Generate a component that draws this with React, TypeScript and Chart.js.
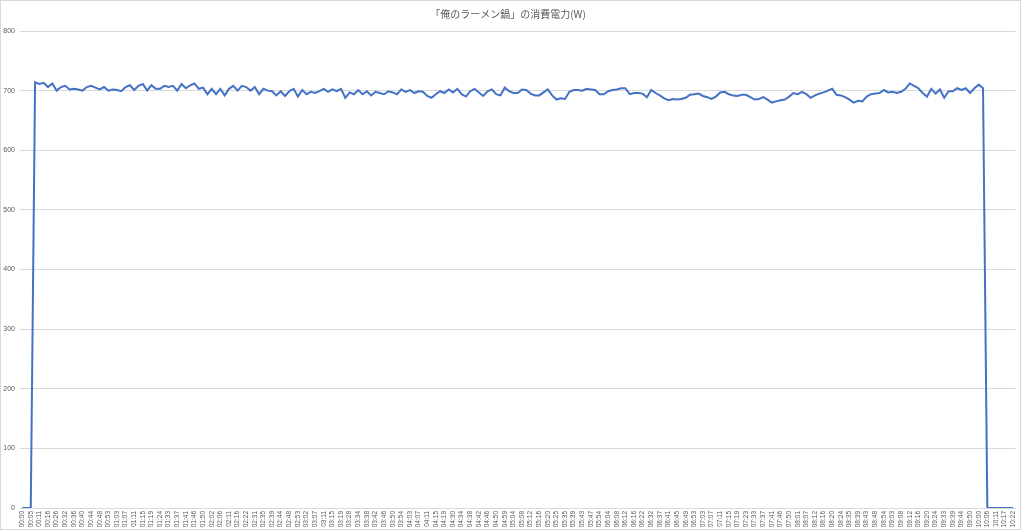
import React, { useEffect, useRef } from "react";
import { Chart, registerables } from "chart.js";

Chart.register(...registerables);

const TITLE = "「俺のラーメン鍋」の消費電力(W)";

// Tick labels shown on the category axis (every other reading)
const timeLabels = [
  "00:00", "00:05", "00:11", "00:16", "00:26", "00:32", "00:36", "00:40", "00:44", "00:48",
  "00:53", "01:03", "01:07", "01:11", "01:15", "01:19", "01:24", "01:33", "01:37", "01:41",
  "01:46", "01:50", "02:02", "02:06", "02:11", "02:16", "02:22", "02:31", "02:35", "02:39",
  "02:44", "02:48", "02:53", "03:02", "03:07", "03:11", "03:15", "03:19", "03:28", "03:34",
  "03:38", "03:42", "03:46", "03:50", "03:54", "04:03", "04:07", "04:11", "04:15", "04:19",
  "04:30", "04:34", "04:38", "04:42", "04:46", "04:50", "04:59", "05:04", "05:08", "05:12",
  "05:16", "05:20", "05:25", "05:35", "05:39", "05:43", "05:47", "05:54", "06:04", "06:08",
  "06:12", "06:16", "06:22", "06:32", "06:37", "06:41", "06:45", "06:49", "06:53", "07:03",
  "07:07", "07:11", "07:15", "07:19", "07:23", "07:33", "07:37", "07:41", "07:46", "07:50",
  "08:01", "08:07", "08:12", "08:16", "08:20", "08:24", "08:35", "08:39", "08:43", "08:48",
  "08:54", "09:03", "09:08", "09:12", "09:16", "09:20", "09:24", "09:33", "09:39", "09:44",
  "09:50", "10:00", "10:06", "10:11", "10:17", "10:22",
];

// Power readings (W)
const startIdle = [0, 0, 0];
const power1 = [
  714, 711, 713, 706, 712, 700, 706, 708, 702, 703, 702, 700, 706, 708, 705, 702, 706, 700, 702, 701,
  699, 706, 709, 701, 708, 711, 700, 709, 703, 703, 708, 706, 708, 700, 711, 704, 709, 712, 703, 705,
  694, 703, 694, 703, 692, 703, 708, 700, 708, 706, 700, 706, 694, 703, 700,
];
const power2 = [
  699, 692, 699, 691, 699, 703, 690, 701, 694, 698, 696, 699, 703, 698, 702, 699, 703, 688, 697, 694,
  701, 694, 699, 692, 698, 696, 694, 699, 697, 694, 702, 698, 701, 696, 699, 698, 691, 688, 694, 699,
  696, 702, 697, 703, 694, 690, 699, 703, 697, 691, 699, 702, 694, 692, 705, 699,
];
const power3 = [
  696, 696, 702, 701, 695, 692, 692, 697, 702, 692, 685, 687, 686, 698, 701, 701, 700, 703, 702, 701,
  694, 694, 699, 701, 702, 704, 704, 694, 696, 696, 695, 689, 701, 696, 692, 687, 684, 686, 685, 686,
  688, 693, 694, 695, 691, 689, 686, 690, 697, 698, 694, 692, 691, 693, 693, 689,
];
const power4 = [
  685, 686, 689, 685, 680, 682, 684, 685, 690, 696, 694, 698, 694, 688, 692, 695, 697, 700, 703, 693,
  692, 689, 685, 680, 683, 682, 690, 694, 695, 696, 701, 697, 698, 696, 698, 703, 712, 708, 704, 696,
  690, 703, 695, 702, 688, 699, 699, 704, 701, 704, 696, 704, 710, 704,
];
const endIdle = [0, 0, 0, 0, 0, 0, 0];

const Y_MIN = 0;
const Y_MAX = 800;
const Y_STEP = 100;

export default function App() {
  const ref = useRef<HTMLCanvasElement | null>(null);

  useEffect(() => {
    const powerW = [...startIdle, ...power1, ...power2, ...power3, ...power4, ...endIdle];
    const categories = powerW.map((_, i) => (i % 2 === 0 ? timeLabels[i / 2] ?? "" : ""));

    const frame = {
      id: "frame",
      beforeDraw(c: any) {
        const ctx = c.ctx;
        ctx.save();
        ctx.fillStyle = "#ffffff";
        ctx.fillRect(0, 0, c.width, c.height);
        ctx.restore();
      },
      afterDraw(c: any) {
        const ctx = c.ctx;
        ctx.save();
        ctx.strokeStyle = "#d9d9d9";
        ctx.lineWidth = 1;
        ctx.strokeRect(0.5, 0.5, 1020, 529);
        ctx.restore();
      },
    };

    const chart = new Chart(ref.current as HTMLCanvasElement, {
      type: "line",
      data: {
        labels: categories,
        datasets: [
          {
            data: powerW,
            borderColor: "#4472C4",
            borderWidth: 2,
            pointRadius: 0,
            tension: 0,
            fill: false,
          },
        ],
      },
      options: {
        responsive: false,
        animation: false,
        layout: { padding: { left: 0, right: 8, top: 0, bottom: 0 } },
        plugins: {
          legend: { display: false },
          tooltip: { enabled: false },
          title: {
            display: true,
            text: TITLE,
            color: "#595959",
            font: { family: "'Noto Sans CJK JP', sans-serif", size: 10, weight: "normal" },
            padding: { top: 8, bottom: 11 },
          },
        },
        scales: {
          x: {
            type: "category",
            offset: true,
            grid: { display: false, drawTicks: false },
            border: { display: true, color: "#d9d9d9" },
            ticks: {
              autoSkip: false,
              minRotation: 90,
              maxRotation: 90,
              padding: 3,
              color: "#595959",
              font: { family: "'Liberation Sans', sans-serif", size: 6.5 },
            },
            afterFit(s: any) {
              s.height = 24;
            },
          },
          y: {
            min: Y_MIN,
            max: Y_MAX,
            ticks: {
              stepSize: Y_STEP,
              padding: 5,
              color: "#595959",
              font: { family: "'Liberation Sans', sans-serif", size: 7 },
            },
            grid: { color: "#d9d9d9", drawTicks: false },
            border: { display: false },
            afterFit(s: any) {
              s.width = 20;
            },
          },
        },
      },
      plugins: [frame],
    } as any);

    return () => chart.destroy();
  }, []);

  return (
    <canvas
      ref={ref}
      width={1024}
      height={532}
      style={{ position: "absolute", left: 0, top: 0, display: "block" }}
    />
  );
}
